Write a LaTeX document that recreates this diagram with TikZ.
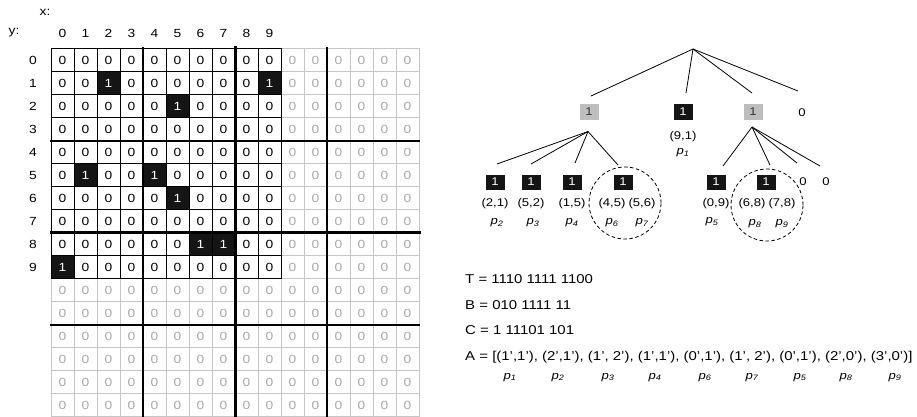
\documentclass[tikz,border=0pt]{standalone}
\usepackage{fontspec}
\setmainfont[FakeStretch=1.17]{Liberation Sans}
\definecolor{cellblack}{HTML}{151515}
\definecolor{zgray}{HTML}{A8A8A8}
\definecolor{zline}{HTML}{C6C6C6}
\definecolor{boxgray}{HTML}{BEBEBE}
\newcommand{\pl}[1]{{\itshape p\textsubscript{#1}}}
\begin{document}
\begin{tikzpicture}[x=1pt,y=-1pt,
  every node/.style={font=\fontsize{11.8}{13}\selectfont, inner sep=0pt},
  treefont/.style={font=\fontsize{11.2}{13}\selectfont},
  codefont/.style={font=\fontsize{12.8}{14}\selectfont},
  zeroblack/.style={text=black},
  zerogray/.style={text=zgray},
  onecell/.style={fill=cellblack, text=white, minimum width=23pt, minimum height=23pt},
  thinblack/.style={line width=0.9pt, black},
  thingray/.style={line width=0.9pt, zline},
  quadline/.style={line width=2pt, black},
  halfline/.style={line width=3pt, black},
  graybox/.style={treefont, fill=boxgray, text=black!80, minimum width=19pt, minimum height=15pt},
  blackbox/.style={treefont, fill=cellblack, text=white, minimum width=19pt, minimum height=15pt},
  edge/.style={line width=0.8pt, black},
  group/.style={circle, draw, dashed, dash pattern=on 3.5pt off 2.5pt, line width=0.8pt, minimum size=72pt}]
\useasboundingbox (0,0) rectangle (917,417);

% axis labels
\node (xlab) at (45,12) {x:};
\node (ylab) at (14,33) {y:};
\foreach \i in {0,...,9} {
  \node (colhd\i) at ({62.5+23*\i},33) {\i};
  \node (rowhd\i) at (33,{60+23*\i}) {\i};
}

% occupied cells
\foreach \p in {2-1,9-1,5-2,1-5,4-5,5-6,6-8,7-8,0-9} {\expandafter\gdef\csname one\p\endcsname{}}

% cell contents
\foreach \i in {0,...,15} {
  \foreach \j in {0,...,15} {
    \ifcsname one\i-\j\endcsname
      \node[onecell] (c\i-\j) at ({62.5+23*\i},{60+23*\j}) {1};
    \else
      \def\st{zerogray}%
      \ifnum\i<10 \ifnum\j<10 \def\st{zeroblack}\fi\fi
      \node[\st] (c\i-\j) at ({62.5+23*\i},{60+23*\j}) {0};
    \fi
  }
}

% padded grid
\foreach \k in {0,...,16} {
  \draw[thingray] ({51+23*\k},48.5) -- ({51+23*\k},416.5);
  \draw[thingray] (51,{48.5+23*\k}) -- (419,{48.5+23*\k});
}
% image grid
\foreach \k in {0,...,10} {
  \draw[thinblack] ({51+23*\k},48.5) -- ({51+23*\k},278.5);
  \draw[thinblack] (51,{48.5+23*\k}) -- (281,{48.5+23*\k});
}
% quadrant boundaries
\foreach \k in {4,12} {
  \draw[quadline] ({51+23*\k},47.5) -- ({51+23*\k},417);
  \draw[quadline] (50,{48.5+23*\k}) -- (420,{48.5+23*\k});
}
\draw[halfline] (235,46.5) -- (235,417);
\draw[halfline] (49.5,232.5) -- (420.5,232.5);

% tree, first level
\coordinate (root) at (693,49);
\node[graybox]  (g1) at (589,112) {1};
\node[blackbox] (b1) at (683,112) {1};
\node[graybox]  (g2) at (753,112) {1};
\node[treefont] (z1) at (802,113) {0};
\coordinate (e1) at (591,96);
\coordinate (e2) at (686,93);
\coordinate (e3) at (752,93);
\coordinate (e4) at (798,91);
\foreach \e in {e1,e2,e3,e4} \draw[edge] (root) -- (\e);
\node[treefont] (b1c) at (683,137) {(9,1)};
\node[treefont] (b1p) at (683,153) {\pl{1}};

% tree, second level (left)
\coordinate (a1) at (588,131.5);
\coordinate (f1) at (497,164);
\coordinate (f2) at (531,164);
\coordinate (f3) at (575,163);
\coordinate (f4) at (618,165);
\foreach \e in {f1,f2,f3,f4} \draw[edge] (a1) -- (\e);
\node[blackbox] (l1) at (495,182) {1};
\node[blackbox] (l2) at (531,182) {1};
\node[blackbox] (l3) at (572,182) {1};
\node[blackbox] (l4) at (623,182) {1};
\node[treefont] (l1c) at (495,204) {(2,1)};
\node[treefont] (l2c) at (531,204) {(5,2)};
\node[treefont] (l3c) at (572,204) {(1,5)};
\node[treefont] (l4c) at (612,204) {(4,5)};
\node[treefont] (l5c) at (642,204) {(5,6)};
\node[treefont] (l1p) at (497,223) {\pl{2}};
\node[treefont] (l2p) at (533,223) {\pl{3}};
\node[treefont] (l3p) at (572,223) {\pl{4}};
\node[treefont] (l4p) at (612,223) {\pl{6}};
\node[treefont] (l5p) at (642,223) {\pl{7}};
\node[group] (grp1) at (625,203) {};

% tree, second level (right)
\coordinate (a2) at (752,127);
\coordinate (h1) at (723,166);
\coordinate (h2) at (770,165);
\coordinate (h3) at (797,163);
\coordinate (h4) at (820,166);
\foreach \e in {h1,h2,h3,h4} \draw[edge] (a2) -- (\e);
\node[blackbox] (r1) at (716,182) {1};
\node[blackbox] (r2) at (766,182) {1};
\node[treefont] (r3) at (803,182) {0};
\node[treefont] (r4) at (826,182) {0};
\node[treefont] (r1c) at (716,204) {(0,9)};
\node[treefont] (r2c) at (752,204) {(6,8)};
\node[treefont] (r3c) at (782,204) {(7,8)};
\node[treefont] (r1p) at (712,222) {\pl{5}};
\node[treefont] (r2p) at (755,224) {\pl{8}};
\node[treefont] (r3p) at (782,224) {\pl{9}};
\node[group] (grp2) at (767,205) {};

% encoded bit strings
\node[codefont, anchor=base west] (tline) at (465,283.5) {T = 1110 1111 1100};
\node[codefont, anchor=base west] (bline) at (465,309) {B = 010 1111 11};
\node[codefont, anchor=base west] (cline) at (465,334.5) {C = 1 11101 101};
\node[codefont, anchor=base west] (aline) at (465,360) {A = [(1',1'), (2',1'), (1', 2'), (1',1'), (0',1'), (1', 2'), (0',1'), (2',0'), (3',0')]};
\foreach \x/\s [count=\n] in {510/1,558/2,608/3,655/4,705/6,752/7,800/5,846/8,895/9}
  \node[treefont, anchor=base] (ap\n) at (\x,379) {\pl{\s}};
\end{tikzpicture}
\end{document}
